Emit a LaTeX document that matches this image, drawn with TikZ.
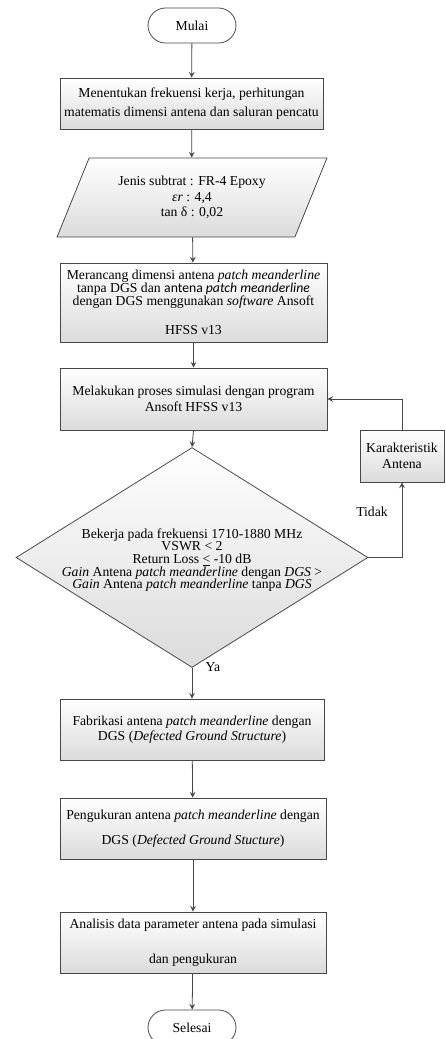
\documentclass[tikz,border=0pt]{standalone}
\usepackage{fontspec}
\setmainfont{Liberation Serif}
\newfontfamily\calibri{Carlito}
\usetikzlibrary{shapes.geometric}

\tikzset{
    garis/.style={draw=black!72, line width=0.45pt},
    terminal/.style={garis, rectangle, rounded corners=0.35cm, fill=white,
        minimum width=1.76cm, minimum height=0.7cm},
    proses/.style={garis, rectangle, top color=white, bottom color=black!14,
        minimum height=1.22cm, align=center, inner sep=1pt},
    masukan/.style={garis, trapezium, trapezium left angle=63, trapezium right angle=117,
        trapezium stretches=true, top color=white, bottom color=black!14,
        minimum width=5.4cm, minimum height=1.58cm, align=center, inner sep=1pt},
    keputusan/.style={garis, diamond, top color=white, bottom color=black!14,
        minimum width=7.04cm, minimum height=4.4cm, inner sep=0pt},
    label/.style={inner sep=1pt}
}

\begin{document}
\begin{tikzpicture}[>=stealth, x=0.02cm, y=-0.02cm,
    font=\fontsize{7.8}{8.8}\selectfont]

    \useasboundingbox (0,0) rectangle (446,1039);

    % =================================================================
    % BAGIAN 1: MULAI SAMPAI PROSES SIMULASI
    % =================================================================
    \node[terminal] (mulai) at (192,25.5) {Mulai};

    \node[proses, minimum width=5.26cm, minimum height=1.02cm] (tentukan) at (191.5,103.5)
        {Menentukan frekuensi kerja, perhitungan\\[2pt]
         matematis dimensi antena dan saluran pencatu};

    % Data masukan substrat (jajar genjang)
    \node[masukan] (substrat) at (192,197.5)
        {Jenis subtrat : FR-4 Epoxy\\ \textit{εr} : 4,4\\ tan δ : 0,02};

    \node[proses, minimum width=5.34cm, minimum height=1.58cm,
          font=\fontsize{7.8}{7.4}\selectfont] (rancang) at (193.5,302.5)
        {Merancang dimensi antena \textit{patch meanderline}\\
         tanpa DGS dan {\calibri antena \textit{patch meanderline}}\\
         dengan DGS menggunakan \textit{software} Ansoft\\[9.4pt]
         HFSS v13};

    \node[proses, minimum width=5.34cm, minimum height=1.24cm] (simulasi) at (193.5,399)
        {Melakukan proses simulasi dengan program\\ Ansoft HFSS v13};

    % =================================================================
    % BAGIAN 2: KEPUTUSAN DAN UMPAN BALIK
    % =================================================================
    \node[keputusan] (cek) at (192,557.5) {};
    \node[align=center, font=\fontsize{7.8}{7.2}\selectfont] (syarat) at (192,560)
        {Bekerja pada frekuensi 1710-1880 MHz\\
         VSWR < 2\\
         Return Loss \smash{\underline{<}} -10 dB\\
         \textit{Gain} Antena \textit{patch meanderline} dengan \textit{DGS} >\\
         \textit{Gain} Antena \textit{patch meanderline} tanpa \textit{DGS}};

    \node[proses, minimum width=1.68cm, minimum height=1.04cm] (karakter) at (402,456)
        {Karakteristik\\ Antena};

    \node[label] (tidak) at (372,512) {Tidak};
    \node[label] (ya) at (213,667) {Ya};

    % =================================================================
    % BAGIAN 3: FABRIKASI SAMPAI SELESAI
    % =================================================================
    \node[proses, minimum width=5.28cm] (fabrikasi) at (192,729.5)
        {Fabrikasi antena \textit{patch meanderline} dengan\\
         DGS (\textit{Defected Ground Structure})};

    \node[proses, minimum width=5.32cm] (ukur) at (193,828.5)
        {Pengukuran antena \textit{patch meanderline} dengan\\[5.4pt]
         DGS (\textit{Defected Ground Stucture})};

    \node[proses, minimum width=5.32cm] (analisis) at (193,942.5)
        {Analisis data parameter antena pada simulasi\\[11.1pt]
         dan pengukuran};

    \node[terminal] (selesai) at (192,1027.5) {Selesai};

    % Garis alir
    \draw[garis, ->] (mulai) -- (tentukan);
    \draw[garis, ->] (tentukan) -- (substrat);
    \draw[garis, ->] (substrat) -- (rancang);
    \draw[garis, ->] (rancang) -- (simulasi);
    \draw[garis, ->] (simulasi.south) -- (cek.north);
    \draw[garis, ->] (cek.east) -| (karakter.south);
    \draw[garis, ->] (karakter.north) |- (simulasi.east);
    \draw[garis, ->] (cek.south) -- (fabrikasi.north);
    \draw[garis, ->] (fabrikasi) -- (ukur);
    \draw[garis, ->] (ukur) -- (analisis);
    \draw[garis, ->] (analisis) -- (selesai);

\end{tikzpicture}
\end{document}
